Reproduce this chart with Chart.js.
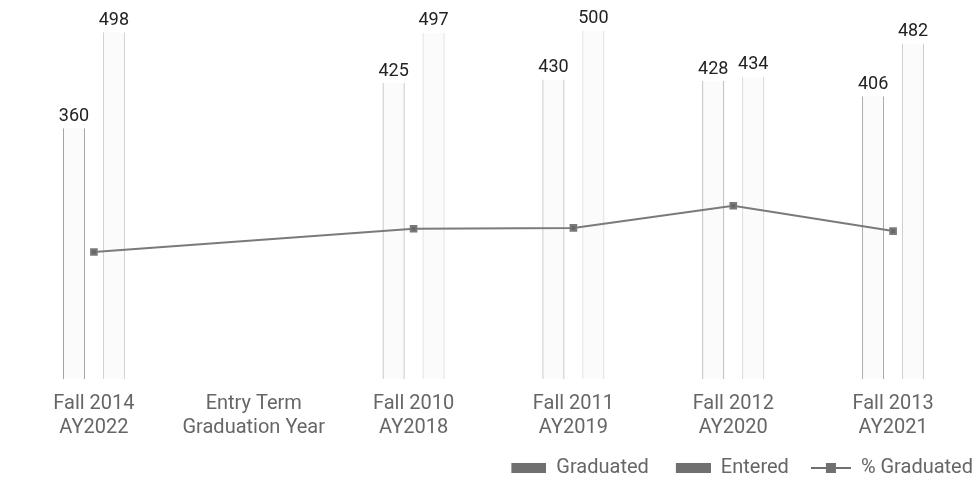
<!DOCTYPE html>
<html>
<head>
<meta charset="utf-8">
<script src="https://cdn.jsdelivr.net/npm/chart.js@4.4.1/dist/chart.umd.min.js"></script>
<style>
  html, body { margin: 0; padding: 0; background: #fff; }
  #wrap { width: 979px; height: 478px; }
</style>
</head>
<body>
<div id="wrap"><canvas id="chart"></canvas></div>
<script>
// categories as they appear along the axis
const categories = [
  ['Fall 2014', 'AY2022'],
  ['Entry Term', 'Graduation Year'],
  ['Fall 2010', 'AY2018'],
  ['Fall 2011', 'AY2019'],
  ['Fall 2012', 'AY2020'],
  ['Fall 2013', 'AY2021']
];
const graduated = [360, null, 425, 430, 428, 406];
const entered   = [498, null, 497, 500, 434, 482];
const pctGraduated = [72.3, null, 85.5, 86.0, 98.6, 84.2];

// small canvases for the legend swatches (transparent lead-in = gap between items)
function swatch(w, h, draw) {
  const c = document.createElement('canvas');
  c.width = w; c.height = h;
  draw(c.getContext('2d'));
  return c;
}
const barSwatch = swatch(56, 12, g => { g.fillStyle = '#707070'; g.fillRect(21, 1, 35, 10); });
const lineSwatch = swatch(56, 12, g => {
  g.fillStyle = '#707070';
  g.fillRect(16, 5, 40, 2);
  g.fillRect(31, 1, 10, 10);
});

// value labels above bars
const barLabels = {
  id: 'barLabels',
  afterDatasetsDraw(chart) {
    const ctx = chart.ctx;
    ctx.save();
    ctx.font = '18px Roboto';
    ctx.fillStyle = '#222';
    ctx.textAlign = 'center';
    ctx.textBaseline = 'bottom';
    chart.data.datasets.forEach((ds, i) => {
      if (ds.type !== 'bar') return;
      chart.getDatasetMeta(i).data.forEach((bar, j) => {
        const v = ds.data[j];
        if (v == null) return;
        ctx.fillText(v, bar.x, bar.y - 3);
      });
    });
    ctx.restore();
  }
};

new Chart(document.getElementById('chart'), {
  data: {
    labels: categories,
    datasets: [
      {
        type: 'line',
        label: '% Graduated',
        data: pctGraduated,
        yAxisID: 'y1',
        borderColor: '#7a7a7a',
        backgroundColor: '#666',
        borderWidth: 2,
        pointStyle: 'rect',
        pointRadius: 4,
        spanGaps: true,
        order: 0
      },
      {
        type: 'bar',
        label: 'Graduated',
        data: graduated,
        backgroundColor: '#fbfbfb',
        borderColor: '#9a9a9a',
        borderWidth: { left: 1, right: 1, top: 0, bottom: 0 },
        barPercentage: 0.55,
        categoryPercentage: 0.5,
        order: 1
      },
      {
        type: 'bar',
        label: 'Entered',
        data: entered,
        backgroundColor: '#fbfbfb',
        borderColor: '#c8c8c8',
        borderWidth: { left: 1, right: 1, top: 0, bottom: 0 },
        barPercentage: 0.55,
        categoryPercentage: 0.5,
        order: 2
      }
    ]
  },
  options: {
    responsive: true,
    maintainAspectRatio: false,
    animation: false,
    layout: { padding: { top: 10, left: 14, right: 0, bottom: -10 } },
    scales: {
      x: {
        grid: { display: false },
        border: { display: false },
        ticks: { color: '#666', font: { family: 'Roboto', size: 20 }, padding: 5, maxRotation: 0, autoSkip: false },
        afterFit(scale) { scale.height += 7; }
      },
      y: { display: false, min: 0, max: 530 },
      y1: { display: false, min: 0, max: 210, position: 'right' }
    },
    plugins: {
      tooltip: { enabled: false },
      legend: {
        position: 'bottom',
        align: 'end',
        labels: {
          color: '#666',
          font: { family: 'Roboto', size: 20 },
          usePointStyle: true,
          pointStyleWidth: 56,
          padding: 6,
          generateLabels(chart) {
            const order = [1, 2, 0];
            return order.map(i => ({
              text: chart.data.datasets[i].label,
              pointStyle: i === 0 ? lineSwatch : barSwatch,
              fillStyle: '#707070',
              strokeStyle: '#707070',
              lineWidth: 0,
              fontColor: '#666',
              hidden: false,
              datasetIndex: i
            }));
          }
        }
      }
    }
  },
  plugins: [barLabels]
});
</script>
</body>
</html>
